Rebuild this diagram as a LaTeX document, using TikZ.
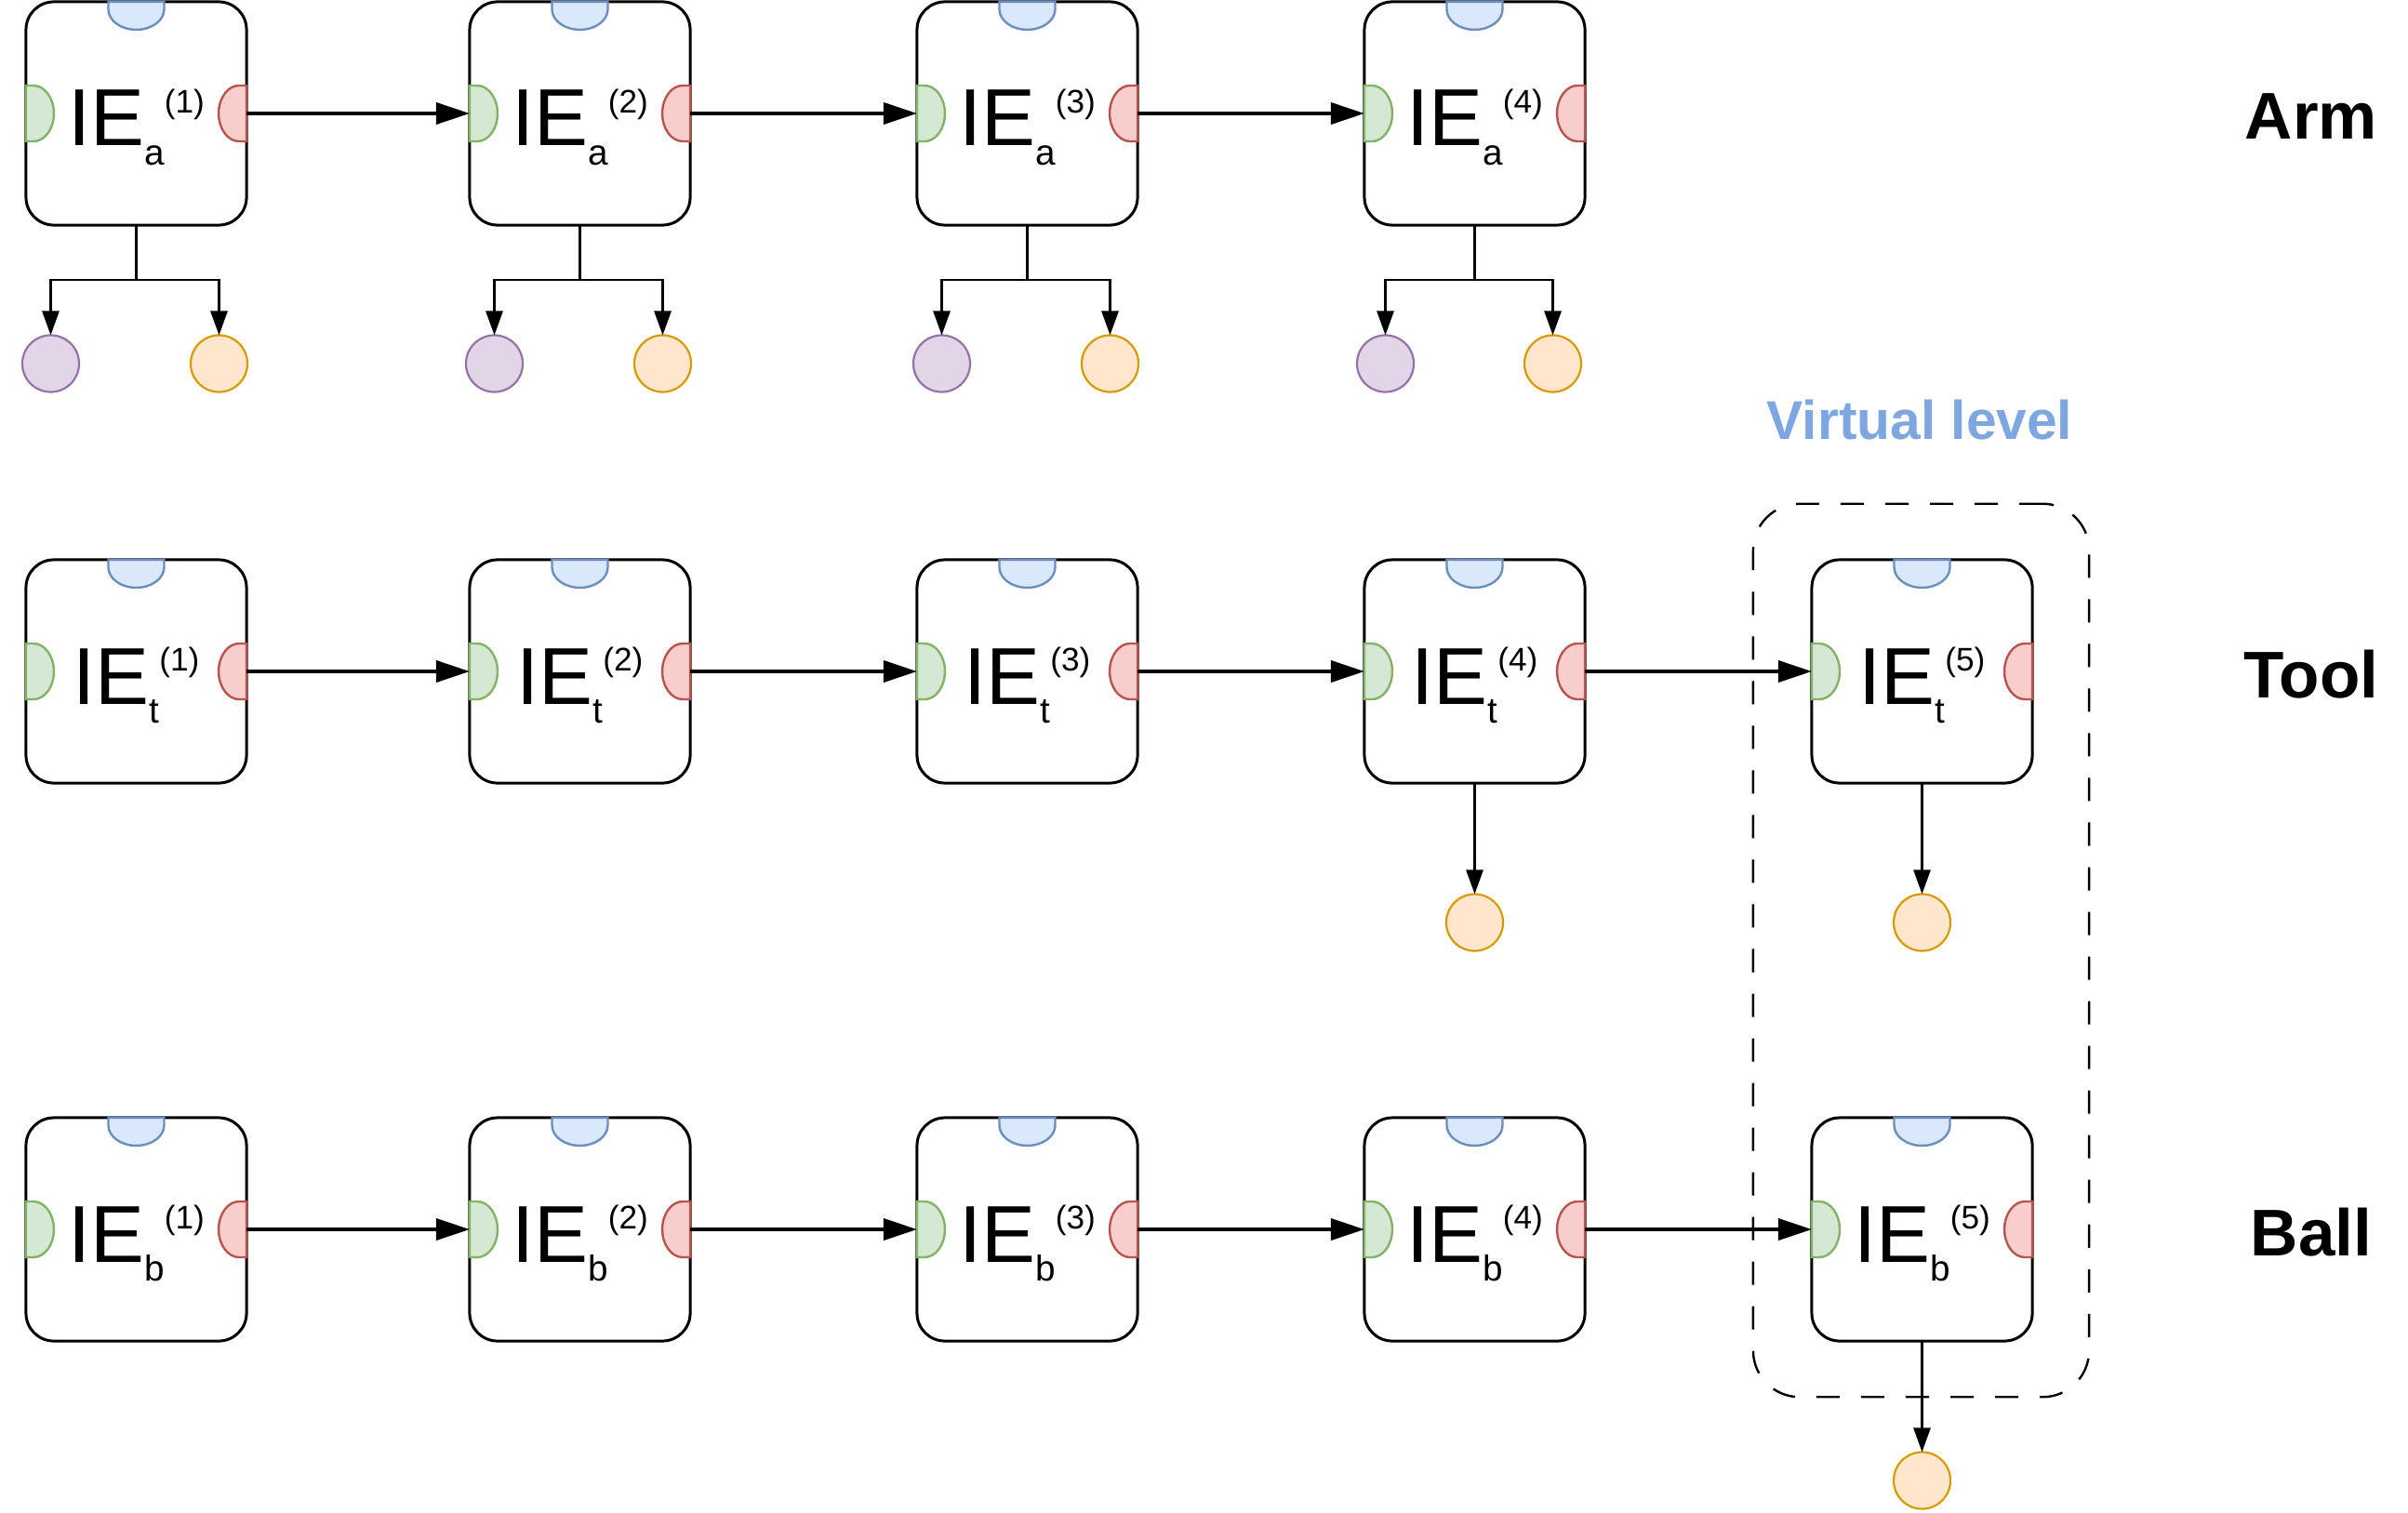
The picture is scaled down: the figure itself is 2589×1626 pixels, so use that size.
\documentclass[tikz,border=0pt]{standalone}
\usepackage{fontspec}
\setmainfont{Liberation Sans}
\usetikzlibrary{arrows.meta,calc}
\definecolor{gfill}{HTML}{D5E8D4}\definecolor{gline}{HTML}{82B366}
\definecolor{rfill}{HTML}{F8CECC}\definecolor{rline}{HTML}{B85450}
\definecolor{bfill}{HTML}{DAE8FC}\definecolor{bline}{HTML}{6C8EBF}
\definecolor{pfill}{HTML}{E1D5E7}\definecolor{pline}{HTML}{9673A6}
\definecolor{ofill}{HTML}{FFE6CC}\definecolor{oline}{HTML}{D79B00}
\definecolor{vlab}{HTML}{7EA6E0}
\tikzset{
  iebox/.style={draw, line width=0.3mm, rounded corners=3mm, minimum width=2.37cm, minimum height=2.4cm, inner sep=0, outer sep=0},
  gport/.style={draw=gline, fill=gfill, line width=0.24mm},
  rport/.style={draw=rline, fill=rfill, line width=0.24mm},
  bport/.style={draw=bline, fill=bfill, line width=0.24mm},
  flow/.style={line width=0.38mm, -{Triangle[length=3.6mm,width=2.3mm]}},
  tap/.style={line width=0.27mm, -{Triangle[length=2.6mm,width=1.8mm]}},
  pdot/.style={circle, draw=pline, fill=pfill, line width=0.22mm, minimum size=6.1mm, inner sep=0, outer sep=0},
  odot/.style={circle, draw=oline, fill=ofill, line width=0.22mm, minimum size=6.1mm, inner sep=0, outer sep=0},
  ietext/.style={anchor=base, inner sep=0},
  rowlab/.style={anchor=base, inner sep=0, font=\fontsize{20.2pt}{22pt}\selectfont\bfseries},
  virtbox/.style={draw, line width=0.24mm, dash pattern=on 2.5mm off 2.3mm, rounded corners=5mm, minimum width=3.61cm, minimum height=9.6cm, inner sep=0},
}
\newcommand\IElabel[2]{{\fontsize{24.7pt}{26pt}\selectfont IE}\raisebox{-2mm}{\fontsize{11pt}{12pt}\selectfont #1}\raisebox{3.5mm}{\fontsize{10pt}{12pt}\selectfont (#2)}}
\newcommand\ports[1]{%
  \draw[gport] (#1.west) ++(0,-30) -- ++(0,60) -- ++(8,0) arc[start angle=90,end angle=-90,x radius=2.2mm,y radius=3mm] -- cycle;
  \draw[rport] (#1.east) ++(0,30) -- ++(0,-60) -- ++(-8,0) arc[start angle=-90,end angle=-270,x radius=2.2mm,y radius=3mm] -- cycle;
  \draw[bport] (#1.north) ++(-30,0) -- ++(60,0) -- ++(0,-8) arc[start angle=0,end angle=-180,x radius=3mm,y radius=2.2mm] -- cycle;
}
\begin{document}
\begin{tikzpicture}[x=0.01cm,y=0.01cm]
\useasboundingbox (0,0) rectangle (2589,1626);
% virtual level
\node[virtbox] (virt) at (2065.5,604) {};
\node[anchor=base, inner sep=0, text=vlab, font=\fontsize{16.7pt}{18pt}\selectfont\bfseries] (vlabel) at (2064,1153) {Virtual level};
% Arm row
\foreach \i/\x/\pl/\orr in {1/146.5/92/89,2/623.5/92/89,3/1104.5/92/89,4/1585.5/96/84}{
  \node[iebox] (a\i) at (\x,1504) {};
  \ports{a\i}
  \node[ietext] (la\i) at (\x,1469) {\IElabel{a}{\i}};
  \node[pdot] (pa\i) at (\x-\pl,1235) {};
  \node[odot] (oa\i) at (\x+\orr,1235) {};
  \draw[tap] (a\i.south) -- ++(0,-59) -| (pa\i.north);
  \draw[tap] (a\i.south) -- ++(0,-59) -| (oa\i.north);
}
% Tool row
\foreach \i/\x in {1/146.5,2/623.5,3/1104.5,4/1585.5,5/2066.5}{
  \node[iebox] (t\i) at (\x,904) {};
  \ports{t\i}
  \node[ietext] (lt\i) at (\x,869) {\IElabel{t}{\i}};
}
% Ball row
\foreach \i/\x in {1/146.5,2/623.5,3/1104.5,4/1585.5,5/2066.5}{
  \node[iebox] (b\i) at (\x,304) {};
  \ports{b\i}
  \node[ietext] (lb\i) at (\x,269) {\IElabel{b}{\i}};
}
\node[odot] (ot4) at (1585.5,634) {};
\node[odot] (ot5) at (2066.5,634) {};
\node[odot] (ob5) at (2066.5,34) {};
\draw[tap] (t4.south) -- (ot4.north);
\draw[tap] (t5.south) -- (ot5.north);
\draw[tap] (b5.south) -- (ob5.north);
% flows
\draw[flow] (a1.east) -- (a2.west);
\draw[flow] (a2.east) -- (a3.west);
\draw[flow] (a3.east) -- (a4.west);
\draw[flow] (t1.east) -- (t2.west);
\draw[flow] (t2.east) -- (t3.west);
\draw[flow] (t3.east) -- (t4.west);
\draw[flow] (t4.east) -- (t5.west);
\draw[flow] (b1.east) -- (b2.west);
\draw[flow] (b2.east) -- (b3.west);
\draw[flow] (b3.east) -- (b4.west);
\draw[flow] (b4.east) -- (b5.west);
% row labels
\node[rowlab] (arm) at (2485,1476) {Arm};
\node[rowlab] (tool) at (2485,876) {Tool};
\node[rowlab] (ball) at (2485,276) {Ball};
\end{tikzpicture}
\end{document}
